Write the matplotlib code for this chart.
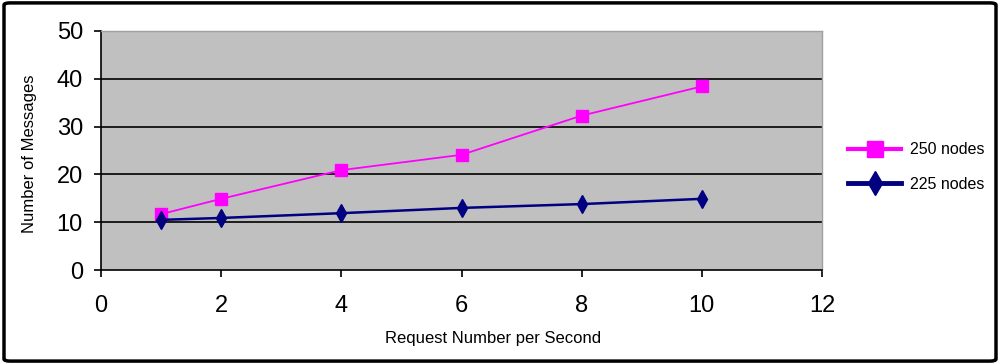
import matplotlib
matplotlib.use("Agg")
import matplotlib.pyplot as plt
from matplotlib.patches import FancyBboxPatch

plt.rcParams['font.family'] = ['Liberation Sans', 'DejaVu Sans']

x = [1, 2, 4, 6, 8, 10]
nodes250 = [11.7, 14.9, 20.9, 24.1, 32.3, 38.4]
nodes225 = [10.5, 10.9, 11.9, 13.0, 13.8, 14.9]
xticks = [0, 2, 4, 6, 8, 10, 12]
yticks = [0, 10, 20, 30, 40, 50]

fig = plt.figure(figsize=(10, 3.64), dpi=100)
ax = fig.add_axes([0.101, 0.258, 0.721, 0.657])
ax.set_facecolor('#C0C0C0')
ax.set_xlim(0, 12)
ax.set_ylim(0, 50)
ax.set_xticks(xticks)
ax.set_yticks(yticks)
for v in yticks[1:-1]:
    ax.axhline(v, color='black', lw=1.2, zorder=1)

l1, = ax.plot(x, nodes250, color='#FF00FF', lw=1.3, marker='s', ms=8,
              label='250 nodes', zorder=3, clip_on=False)
l2, = ax.plot(x, nodes225, color='#000080', lw=1.8, marker='d', ms=9,
              label='225 nodes', zorder=3, clip_on=False)

for s in ['top', 'right']:
    ax.spines[s].set_color('#A0A0A0')
    ax.spines[s].set_linewidth(1)
for s in ['left', 'bottom']:
    ax.spines[s].set_color('black')
    ax.spines[s].set_linewidth(1.2)
ax.tick_params(direction='out', length=5, width=1.2, labelsize=17)
ax.tick_params(axis='x', pad=13)
ax.tick_params(axis='y', pad=8)
for lab in ax.get_xticklabels() + ax.get_yticklabels():
    lab.set_family(['Liberation Sans Narrow', 'Liberation Sans', 'DejaVu Sans'])

fig.text(0.030, 0.577, 'Number of Messages', rotation=90, ha='center', va='center', fontsize=12)
fig.text(0.493, 0.071, 'Request Number per Second', ha='center', va='center', fontsize=12)

leg = fig.legend(handles=[l1, l2], loc='center left', bbox_to_anchor=(0.834, 0.541),
                 frameon=False, fontsize=11.5, handlelength=3.3, handletextpad=0.55,
                 labelspacing=1.2)
for h, lw, ms in zip(leg.legend_handles, [3, 3.5], [11, 12]):
    h.set_linewidth(lw)
    h.set_markersize(ms)

border = FancyBboxPatch((0.004, 0.008), 0.992, 0.984, boxstyle='round,pad=0,rounding_size=0.006',
                        transform=fig.transFigure, fill=False, edgecolor='black', lw=2.5)
fig.patches.append(border)

fig.savefig('out.png', dpi=100)
